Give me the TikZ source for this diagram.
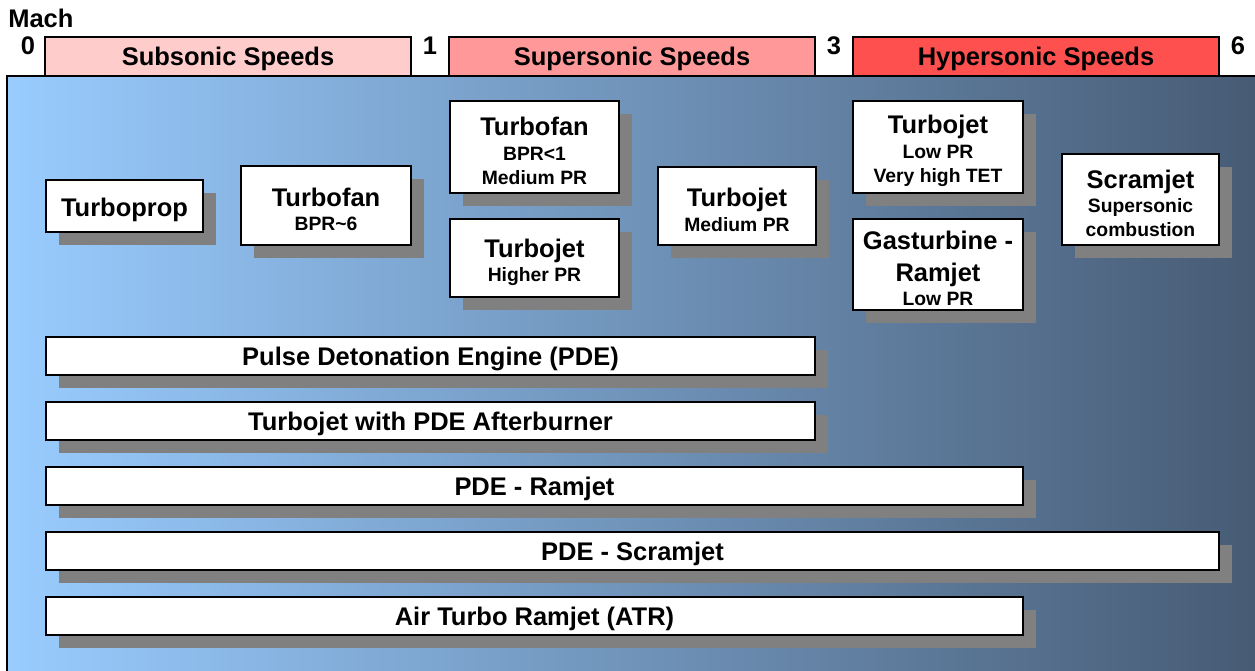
\documentclass[tikz,border=0pt]{standalone}
\usepackage{fontspec}
\setmainfont{Liberation Sans}
\usetikzlibrary{shadows}
\definecolor{subsonic}{RGB}{255,204,204}
\definecolor{supersonic}{RGB}{255,153,153}
\definecolor{hypersonic}{RGB}{255,80,80}
\definecolor{skyleft}{RGB}{153,204,255}
\definecolor{slateright}{RGB}{70,90,115}
\newcommand{\engname}[1]{{\fontsize{14.5}{17}\selectfont\rule{0pt}{15pt}#1}}

\begin{document}
\begin{tikzpicture}[
  speedbar/.style={draw, line width=1pt, minimum width=7.32cm, minimum height=0.78cm, inner sep=0pt, text height=10.4pt, text depth=0pt, font=\bfseries\fontsize{14.5}{17}\selectfont},
  machnum/.style={anchor=base, inner sep=0pt, font=\bfseries\fontsize{14.5}{17}\selectfont},
  framed/.style={draw, fill=white, line width=1pt, inner sep=0pt, drop shadow={shadow xshift=0.26cm, shadow yshift=-0.26cm, fill=black!50, opacity=1}},
  engine/.style={framed, align=center, font=\bfseries\fontsize{11}{13.8}\selectfont},
  band/.style={framed, minimum height=0.76cm, text height=10.4pt, text depth=0pt, font=\bfseries\fontsize{14.5}{17}\selectfont}
]
\useasboundingbox (0,0) rectangle (25.1,-13.42);
% background panel
\shade[left color=skyleft, right color=slateright] (0.14,-1.52) rectangle (25.3,-13.6);
\draw[line width=1pt] (0.14,-13.6) -- (0.14,-1.52) -- (25.3,-1.52);

% speed ranges
\node[anchor=base west, inner sep=0pt, font=\bfseries\fontsize{14.5}{17}\selectfont] (mach) at (0.16,-0.54) {Mach};
\node[speedbar, fill=subsonic] (subsonic) at (4.56,-1.13) {Subsonic Speeds};
\node[speedbar, fill=supersonic] (supersonic) at (12.64,-1.13) {Supersonic Speeds};
\node[speedbar, fill=hypersonic] (hypersonic) at (20.72,-1.13) {Hypersonic Speeds};
\node[machnum] (m0) at (0.56,-1.09) {0};
\node[machnum] (m1) at (8.60,-1.09) {1};
\node[machnum] (m3) at (16.68,-1.09) {3};
\node[machnum] (m6) at (24.76,-1.09) {6};

% single engines
\node[engine, minimum width=3.14cm, minimum height=1.04cm] (turboprop) at (2.49,-4.12) {\engname{Turboprop}};
\node[engine, minimum width=3.40cm, minimum height=1.58cm] (fanhigh) at (6.52,-4.11) {\engname{Turbofan}\\BPR\textasciitilde 6};
\node[engine, minimum width=3.38cm, minimum height=1.84cm] (fanlow) at (10.69,-2.94) {\engname{Turbofan}\\BPR<1\\Medium PR};
\node[engine, minimum width=3.38cm, minimum height=1.56cm] (jethigh) at (10.69,-5.16) {\engname{Turbojet}\\Higher PR};
\node[engine, minimum width=3.16cm, minimum height=1.56cm] (jetmedium) at (14.74,-4.12) {\engname{Turbojet}\\Medium PR};
\node[engine, minimum width=3.40cm, minimum height=1.84cm] (jetlow) at (18.76,-2.94) {\engname{Turbojet}\\Low PR\\Very high TET};
\node[engine, minimum width=3.40cm, minimum height=1.82cm] (gasramjet) at (18.76,-5.29) {\engname{Gasturbine -}\\[2pt]\engname{Ramjet}\\Low PR};
\node[engine, minimum width=3.14cm, minimum height=1.82cm] (scramjet) at (22.81,-3.99) {\engname{Scramjet}\\Supersonic\\combustion};

% combined cycles
\node[band, minimum width=15.38cm] (pde) at (8.61,-7.12) {Pulse Detonation Engine (PDE)};
\node[band, minimum width=15.38cm] (pdeburner) at (8.61,-8.42) {Turbojet with PDE Afterburner};
\node[band, minimum width=19.54cm] (pderamjet) at (10.69,-9.72) {PDE - Ramjet};
\node[band, minimum width=23.46cm] (pdescramjet) at (12.65,-11.02) {PDE - Scramjet};
\node[band, minimum width=19.54cm] (atr) at (10.69,-12.32) {Air Turbo Ramjet (ATR)};
\end{tikzpicture}
\end{document}
